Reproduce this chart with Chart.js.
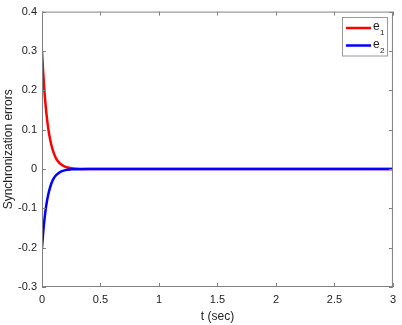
<!DOCTYPE html>
<html>
<head>
<meta charset="utf-8">
<script src="https://cdn.jsdelivr.net/npm/chart.js@4.4.0/dist/chart.umd.min.js"></script>
<style>
  html, body { margin: 0; padding: 0; background: #fff; }
  #wrap { width: 402px; height: 325px; }
</style>
</head>
<body>
<div id="wrap"><canvas id="errChart" width="402" height="325"></canvas></div>
<script>
// time samples (sec) and the two error curves
var t  = [0, 0.01, 0.02, 0.03, 0.04, 0.05, 0.06, 0.08, 0.10, 0.12, 0.15, 0.20, 0.25, 0.30, 0.40, 0.50, 1.0, 1.5, 2.0, 2.5, 3.0];
var e1 = [0.300, 0.246, 0.201, 0.165, 0.135, 0.110, 0.090, 0.061, 0.041, 0.027, 0.015, 0.0055, 0.002, 0.0007, 0.0001, 0, 0, 0, 0, 0, 0];
var e2 = [-0.200, -0.162, -0.131, -0.106, -0.086, -0.070, -0.057, -0.037, -0.024, -0.016, -0.0085, -0.003, -0.001, -0.0004, 0, 0, 0, 0, 0, 0, 0];
var seriesNames = ['e_1', 'e_2'];
var seriesColours = ['#ff0000', '#0000ff'];

var xTicks = [0, 0.5, 1, 1.5, 2, 2.5, 3];
var yTicks = [-0.3, -0.2, -0.1, 0, 0.1, 0.2, 0.3, 0.4];

function toPoints(xs, ys) {
  var pts = [];
  for (var i = 0; i < xs.length; i++) pts.push({x: xs[i], y: ys[i]});
  return pts;
}

var fmt = function(v) { return Number(Number(v).toFixed(1)).toString(); };
var boxColour = '#808080';

// matlab style box, inward ticks and the legend with subscripts
var matlabBox = {
  id: 'matlabBox',
  afterDraw: function(chart) {
    var ctx = chart.ctx, a = chart.chartArea;
    var xs = chart.scales.x, ys = chart.scales.y;
    ctx.save();
    ctx.strokeStyle = boxColour;
    ctx.lineWidth = 1;
    ctx.strokeRect(a.left + 0.5, a.top + 0.5, a.right - a.left - 1, a.bottom - a.top - 1);
    ctx.beginPath();
    xTicks.forEach(function(v) {
      var px = Math.round(xs.getPixelForValue(v)) + 0.5;
      ctx.moveTo(px, a.bottom); ctx.lineTo(px, a.bottom - 4);
      ctx.moveTo(px, a.top); ctx.lineTo(px, a.top + 4);
    });
    yTicks.forEach(function(v) {
      var py = Math.round(ys.getPixelForValue(v)) + 0.5;
      ctx.moveTo(a.left, py); ctx.lineTo(a.left + 4, py);
      ctx.moveTo(a.right, py); ctx.lineTo(a.right - 4, py);
    });
    ctx.stroke();

    // legend
    var bx = 342.5, by = 17.5, bw = 45, bh = 38.5;
    ctx.fillStyle = '#fff';
    ctx.fillRect(bx, by, bw, bh);
    ctx.strokeStyle = '#999';
    ctx.strokeRect(bx, by, bw, bh);
    chart.data.datasets.forEach(function(ds, i) {
      var ly = 28 + i * 17.5;
      ctx.strokeStyle = ds.borderColor;
      ctx.lineWidth = 2.5;
      ctx.beginPath();
      ctx.moveTo(346, ly); ctx.lineTo(371, ly);
      ctx.stroke();
      var parts = ds.label.split('_');
      ctx.fillStyle = '#222';
      ctx.textBaseline = 'alphabetic';
      ctx.textAlign = 'left';
      ctx.font = '12px "Liberation Sans", Arial, sans-serif';
      ctx.fillText(parts[0], 373, ly + 2);
      ctx.font = '8px "Liberation Sans", Arial, sans-serif';
      ctx.fillText(parts[1], 380, ly + 7);
    });
    ctx.restore();
  }
};

var errChart = new Chart(document.getElementById('errChart'), {
  type: 'line',
  data: {
    datasets: [{
      label: seriesNames[0],
      data: toPoints(t, e1),
      borderColor: seriesColours[0],
      borderWidth: 2.5,
      pointRadius: 0,
      fill: false,
      order: 2,
      cubicInterpolationMode: 'monotone'
    }, {
      label: seriesNames[1],
      data: toPoints(t, e2),
      borderColor: seriesColours[1],
      borderWidth: 2.5,
      pointRadius: 0,
      fill: false,
      order: 1,
      cubicInterpolationMode: 'monotone'
    }]
  },
  options: {
    responsive: false,
    animation: false,
    layout: { padding: { top: 8, right: 5, left: 0, bottom: 0 } },
    plugins: {
      legend: { display: false },
      tooltip: { enabled: false }
    },
    scales: {
      x: {
        type: 'linear',
        min: 0, max: 3,
        afterFit: function(s) { s.height = 38; },
        afterBuildTicks: function(s) { s.ticks = xTicks.map(function(v) { return {value: v}; }); },
        grid: { display: false, drawTicks: false },
        border: { display: false },
        ticks: {
          padding: 6,
          maxRotation: 0,
          color: '#222',
          font: { family: '"Liberation Sans", Arial, sans-serif', size: 11 },
          callback: fmt
        },
        title: {
          display: true,
          text: 't (sec)',
          color: '#222',
          padding: { top: 0, bottom: 1 },
          font: { family: '"Liberation Sans", Arial, sans-serif', size: 12 }
        }
      },
      y: {
        min: -0.3, max: 0.4,
        afterFit: function(s) { s.width = 42; },
        afterBuildTicks: function(s) { s.ticks = yTicks.map(function(v) { return {value: v}; }); },
        grid: { display: false, drawTicks: false },
        border: { display: false },
        ticks: {
          padding: 5,
          color: '#222',
          font: { family: '"Liberation Sans", Arial, sans-serif', size: 11 },
          callback: fmt
        },
        title: {
          display: true,
          text: 'Synchronization errors',
          color: '#222',
          padding: { top: 1, bottom: 0 },
          font: { family: '"Liberation Sans", Arial, sans-serif', size: 12 }
        }
      }
    }
  },
  plugins: [matlabBox]
});
</script>
</body>
</html>
